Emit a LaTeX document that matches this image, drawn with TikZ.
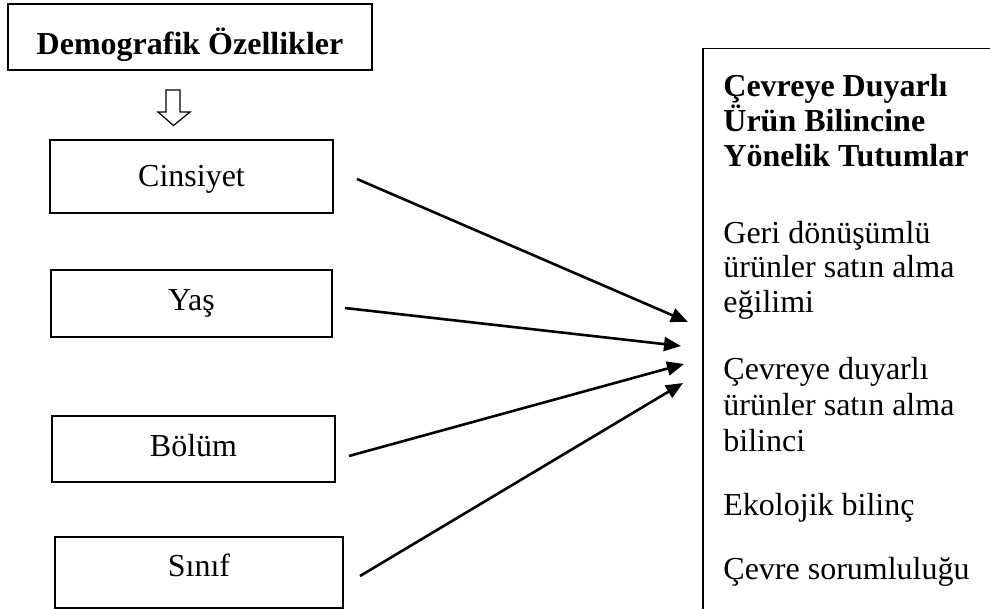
\documentclass[tikz,border=0pt]{standalone}
\usepackage{fontspec}
\setmainfont{Liberation Serif}
\usetikzlibrary{arrows.meta}
\begin{document}
\begin{tikzpicture}[x=0.5pt,y=-0.5pt,
  box/.style={draw, line width=0.75pt, inner sep=0pt, font=\fontsize{16}{19}\selectfont, text depth=0pt},
  link/.style={line width=1.3pt, -{Triangle[length=8.5pt,width=7pt]}},
  rtext/.style={anchor=base west, inner sep=0pt, font=\fontsize{16}{19}\selectfont},
  rhead/.style={anchor=base west, inner sep=0pt, font=\fontsize{16}{19}\selectfont\bfseries}]
\useasboundingbox (0,0) rectangle (990,609);

% left boxes
\node[box, font=\fontsize{16}{19}\selectfont\bfseries, minimum width=182pt, minimum height=33pt, text height=18pt] (demo) at (190,37) {Demografik Özellikler};
\node[box, minimum width=141.5pt, minimum height=36.5pt, text height=10.5pt] (cin) at (191.5,176.5) {Cinsiyet};
\node[box, minimum width=140.5pt, minimum height=33.5pt, text height=6.5pt] (yas) at (191.5,303.5) {Yaş};
\node[box, minimum width=141.5pt, minimum height=33pt, text height=7pt] (bol) at (193.5,449) {Bölüm};
\node[box, minimum width=144pt, minimum height=35.5pt, text height=3.5pt] (sin) at (199,572.5) {Sınıf};

% hollow block arrow
\draw[line width=0.6pt, line join=miter] (166,90) -- (180,90) -- (180,112) -- (190,112) -- (173.5,125.5) -- (158,112) -- (166,112) -- cycle;

% right box (cut off by the page edge)
\begin{scope}
\clip (0,0) rectangle (990,609);
\node[draw, line width=0.75pt, anchor=north west, inner sep=0pt, minimum width=154pt, minimum height=291pt] (tut) at (702,48) {};
\end{scope}

% right texts
\node[rhead] (h1) at (723,97) {Çevreye Duyarlı};
\node[rhead] (h2) at (723,132) {Ürün Bilincine};
\node[rhead] (h3) at (723,167) {Yönelik Tutumlar};
\node[rtext] (t1) at (723,243) {Geri dönüşümlü};
\node[rtext] (t2) at (723,278) {ürünler satın alma};
\node[rtext] (t3) at (723,313) {eğilimi};
\node[rtext] (t4) at (723,379) {Çevreye duyarlı};
\node[rtext] (t5) at (723,415) {ürünler satın alma};
\node[rtext] (t6) at (723,451) {bilinci};
\node[rtext] (t7) at (723,515) {Ekolojik bilinç};
\node[rtext] (t8) at (723,579) {Çevre sorumluluğu};

% connectors
\coordinate (s1) at (357,179); \coordinate (e1) at (688,322);
\coordinate (s2) at (345,308); \coordinate (e2) at (681,346);
\coordinate (s3) at (349,456); \coordinate (e3) at (684,364);
\coordinate (s4) at (360,576); \coordinate (e4) at (683,383);
\draw[link] (s1) -- (e1);
\draw[link] (s2) -- (e2);
\draw[link] (s3) -- (e3);
\draw[link] (s4) -- (e4);
\end{tikzpicture}
\end{document}
